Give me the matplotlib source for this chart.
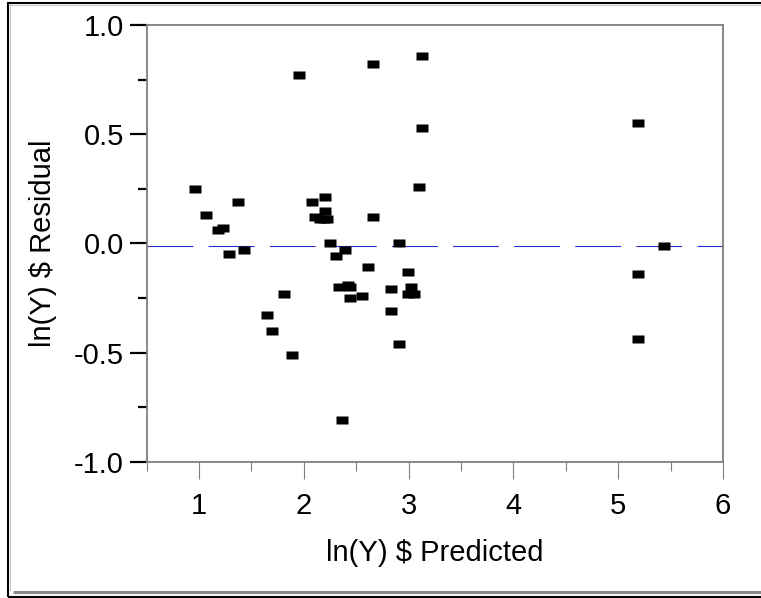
import matplotlib
matplotlib.use('Agg')
import matplotlib.pyplot as plt
from matplotlib.lines import Line2D
from matplotlib.ticker import MultipleLocator, FormatStrFormatter

# predicted vs residual
pred = [0.96, 1.07, 1.18, 1.23, 1.37, 1.95, 2.08, 2.20, 2.11, 2.15,
        2.19, 2.22, 2.20, 2.66, 2.66, 3.13, 3.13, 3.10, 2.25, 2.91,
        1.29, 1.43, 2.31, 2.39, 2.61, 2.99, 2.34, 2.42, 2.44, 2.44,
        2.55, 2.83, 3.02, 2.99, 3.05, 2.83, 2.91, 1.81, 1.65, 1.70,
        1.89, 2.36, 5.19, 5.44, 5.19, 5.19]
resid = [0.25, 0.13, 0.06, 0.07, 0.19, 0.77, 0.19, 0.21, 0.12, 0.11,
         0.11, 0.11, 0.15, 0.82, 0.12, 0.86, 0.53, 0.26, 0.00, 0.00,
         -0.05, -0.03, -0.06, -0.03, -0.11, -0.13, -0.20, -0.19, -0.20, -0.25,
         -0.24, -0.21, -0.20, -0.23, -0.23, -0.31, -0.46, -0.23, -0.33, -0.40,
         -0.51, -0.81, 0.55, -0.01, -0.14, -0.44]
mean_line = -0.01

xlab = 'ln(Y) $ Predicted'
ylab = 'ln(Y) $ Residual'

plt.rcParams['font.family'] = ['Liberation Sans', 'DejaVu Sans']
plt.rcParams['axes.unicode_minus'] = False
plt.rcParams['lines.scale_dashes'] = False

W, H = 761, 598
fig = plt.figure(figsize=(W / 100, H / 100), dpi=100)
ax = fig.add_axes([146.7 / W, 1 - 461.7 / H, (723 - 146.7) / W, (461.7 - 25) / H])

gray = '#7f7f7f'
fs = 21
ax.axhline(mean_line, color='#2b2bd6', lw=0.8, dashes=(33, 11), zorder=1)
rect = [(-1, -0.76), (1, -0.76), (1, 0.76), (-1, 0.76), (-1, -0.76)]
ax.plot(pred, resid, ls='none', marker=rect, ms=8.3, mfc='black', mec='none', zorder=3)

ax.set_xlim(0.5, 6)
ax.set_ylim(-1, 1)
ax.xaxis.set_major_locator(MultipleLocator(1))
ax.xaxis.set_minor_locator(MultipleLocator(0.5))
ax.yaxis.set_major_locator(MultipleLocator(0.5))
ax.yaxis.set_minor_locator(MultipleLocator(0.25))
ax.yaxis.set_major_formatter(FormatStrFormatter('%.1f'))
ax.xaxis.set_major_formatter(FormatStrFormatter('%d'))

for s in ax.spines.values():
    s.set_color(gray)
    s.set_linewidth(1.3)
ax.tick_params(axis='x', which='major', length=12, width=0.8, color=gray, labelsize=fs, pad=10)
ax.tick_params(axis='x', which='minor', length=6.5, width=0.8, color=gray)
ax.tick_params(axis='y', which='major', length=12, width=1.6, color='black', labelsize=fs, pad=4.5)
ax.tick_params(axis='y', which='minor', length=6.5, width=1.6, color='black')

ax.set_xlabel(xlab, fontsize=fs)
ax.set_ylabel(ylab, fontsize=fs)
ax.xaxis.set_label_coords(0.5, -0.178)
ax.yaxis.set_label_coords(-0.155, 0.5)

# outer report frame
def fline(x0, y0, x1, y1, c, lw):
    fig.add_artist(Line2D([x0 / W, x1 / W], [1 - y0 / H, 1 - y1 / H], color=c, lw=lw,
                          transform=fig.transFigure, solid_capstyle='butt'))

fline(8, 2.7, W, 2.7, 'black', 1.5)
fline(8, 4.6, W, 4.6, '#c8c8c8', 0.8)
fline(8, 2, 8, 597, 'black', 1.5)
fline(10.3, 4, 10.3, 591, '#c8c8c8', 0.8)
fline(13, 591.5, W, 591.5, '#8a8a8a', 2.2)
fline(8, 596.7, W, 596.7, 'black', 1.5)

fig.savefig('out.png', dpi=100)
